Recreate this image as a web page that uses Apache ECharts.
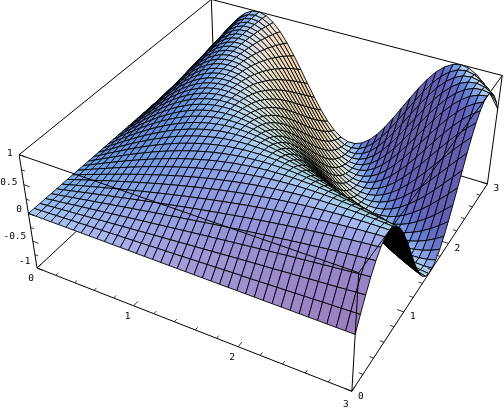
<!DOCTYPE html>
<html><head><meta charset="utf-8">
<style>html,body{margin:0;padding:0;background:#fff}#c{width:504px;height:408px}</style>
<script src="https://cdn.jsdelivr.net/npm/echarts@6/dist/echarts.min.js"></script>
</head><body><div id="c"></div>
<script>
// surface heights, thousandths of a z unit; one row per x grid line
const row00=[0,0,0,0,0,0,0,0,0,0,0,0,0,0,0,0,0,0,0,0,0,0,0,0,0,0,0,0,0,0,0,0,0,0,0,0,0,0,0,0];
const row01=[0,6,12,18,24,30,36,41,47,53,59,65,71,77,83,89,95,100,106,112,118,124,130,136,142,148,153,159,165,171,177,182,188,194,200,206,211,217,223,229];
const row02=[0,12,24,36,47,59,71,83,95,106,118,130,142,153,165,177,188,200,211,223,235,246,257,269,280,292,303,314,325,336,348,359,370,381,392,402,413,424,435,445];
const row03=[0,18,36,53,71,89,106,124,142,159,177,194,211,229,246,263,280,297,314,331,348,364,381,397,413,429,445,461,477,492,508,523,538,553,568,582,596,611,625,638];
const row04=[0,24,47,71,95,118,142,165,188,211,235,257,280,303,325,348,370,392,413,435,456,477,497,518,538,558,577,596,615,634,652,670,687,704,721,737,753,768,783,797];
const row05=[0,30,59,89,118,148,177,206,235,263,292,320,348,375,402,429,456,482,508,533,558,582,606,629,652,674,696,717,737,757,775,794,811,828,845,860,875,889,902,914];
const row06=[0,36,71,106,142,177,211,246,280,314,348,381,413,445,477,508,538,568,596,625,652,678,704,729,753,775,797,818,838,857,875,892,907,921,935,947,958,967,976,983];
const row07=[0,41,83,124,165,206,246,286,325,364,402,440,477,513,548,582,615,647,678,708,737,764,790,815,838,860,881,899,917,932,947,959,970,979,987,993,997,999,1000,999];
const row08=[0,47,95,142,188,235,280,325,370,413,456,497,538,577,615,652,687,721,753,783,811,838,863,886,907,926,943,958,970,981,989,995,998,1000,999,996,991,984,974,962];
const row09=[0,53,106,159,211,263,314,364,413,461,508,553,596,638,678,717,753,787,818,848,875,899,921,941,958,971,983,991,997,1000,1000,997,991,983,971,958,941,921,899,875];
const row10=[0,59,118,177,235,292,348,402,456,508,558,606,652,696,737,775,811,845,875,902,926,947,964,978,989,996,999,1000,996,989,979,965,948,928,904,878,848,815,779,741];
const row11=[0,65,130,194,257,320,381,440,497,553,606,657,704,749,790,828,863,894,921,945,964,979,990,997,1000,998,993,983,969,950,928,902,872,838,801,760,716,669,620,567];
const row12=[0,71,142,211,280,348,413,477,538,596,652,704,753,797,838,875,907,935,958,976,989,997,1000,998,991,979,962,941,914,883,848,808,764,716,665,610,553,492,429,364];
const row13=[0,77,153,229,303,375,445,513,577,638,696,749,797,841,881,914,943,966,983,994,999,999,993,980,962,939,909,875,835,791,741,687,629,567,502,434,364,292,217,141];
const row14=[0,83,165,246,325,402,477,548,615,678,737,790,838,881,917,947,970,987,997,1000,996,986,969,945,914,878,835,786,733,674,610,543,471,397,319,240,159,76,-6,-89];
const row15=[0,89,177,263,348,429,508,582,652,717,775,828,875,914,947,971,989,998,1000,993,979,958,928,891,848,797,741,678,610,538,461,380,297,211,123,35,-54,-142,-229,-315];
const row16=[0,95,188,280,370,456,538,615,687,753,811,863,907,943,970,989,998,999,991,974,948,914,872,822,764,699,629,553,471,386,297,205,112,17,-77,-171,-264,-354,-440,-523];
const row17=[0,100,200,297,392,482,568,647,721,787,845,894,935,966,987,998,999,990,971,942,904,857,801,737,665,587,502,413,319,223,123,23,-77,-177,-275,-370,-462,-548,-630,-704];
const row18=[0,106,211,314,413,508,596,678,753,818,875,921,958,983,997,1000,991,971,941,899,848,786,716,638,553,461,364,263,159,53,-54,-160,-264,-365,-462,-553,-639,-717,-787,-848];
const row19=[0,112,223,331,435,533,625,708,783,848,902,945,976,994,1000,993,974,942,899,845,779,704,620,528,429,325,217,106,-6,-118,-229,-337,-440,-538,-630,-713,-787,-851,-905,-947];
const row20=[0,118,235,348,456,558,652,737,811,875,926,964,989,999,996,979,948,904,848,779,699,610,512,407,297,182,65,-54,-171,-286,-397,-503,-601,-692,-772,-842,-900,-945,-977,-995];
const row21=[0,124,246,364,477,582,678,764,838,899,947,979,997,999,986,958,914,857,786,704,610,507,397,280,159,35,-89,-212,-331,-446,-553,-652,-741,-818,-884,-935,-972,-993,-1000,-991];
const row22=[0,130,257,381,497,606,704,790,863,921,964,990,1000,993,969,928,872,801,716,620,512,397,274,147,17,-113,-241,-365,-482,-592,-692,-780,-854,-914,-959,-988,-1000,-995,-973,-934];
const row23=[0,136,269,397,518,629,729,815,886,941,978,997,998,980,945,891,822,737,638,528,407,280,147,11,-124,-258,-387,-508,-620,-721,-808,-881,-937,-976,-996,-999,-983,-948,-896,-828];
const row24=[0,142,280,413,538,652,753,838,907,958,989,1000,991,962,914,848,764,665,553,429,297,159,17,-124,-264,-397,-523,-639,-741,-829,-900,-952,-986,-1000,-993,-967,-921,-857,-775,-678];
const row25=[0,148,292,429,558,674,775,860,926,971,996,998,979,939,878,797,699,587,461,325,182,35,-113,-258,-397,-528,-648,-753,-842,-912,-963,-992,-1000,-986,-950,-894,-818,-724,-615,-492];
const row26=[0,153,303,445,577,696,797,881,943,983,999,993,962,909,835,741,629,502,364,217,65,-89,-241,-387,-523,-648,-757,-848,-919,-969,-995,-998,-978,-934,-869,-783,-678,-557,-423,-279];
const row27=[0,159,314,461,596,717,818,899,958,991,1000,983,941,875,786,678,553,413,263,106,-54,-212,-365,-508,-639,-753,-848,-922,-972,-997,-997,-971,-921,-847,-752,-638,-507,-364,-211,-52];
const row28=[0,165,325,477,615,737,838,917,970,997,996,969,914,835,733,610,471,319,159,-6,-171,-331,-482,-620,-741,-842,-919,-972,-997,-996,-967,-912,-831,-728,-605,-466,-313,-152,13,177];
const row29=[0,171,336,492,634,757,857,932,981,1000,989,950,883,791,674,538,386,223,53,-118,-286,-446,-592,-721,-829,-912,-969,-997,-996,-965,-907,-821,-712,-581,-434,-274,-105,66,235,398];
const row30=[0,177,348,508,652,775,875,947,989,1000,979,928,848,741,610,461,297,123,-54,-229,-397,-553,-692,-808,-900,-963,-995,-997,-967,-907,-818,-704,-566,-412,-245,-70,107,281,446,597];
const row31=[0,182,359,523,670,794,892,959,995,997,965,902,808,687,543,380,205,23,-160,-337,-503,-652,-780,-881,-952,-992,-998,-971,-912,-821,-704,-562,-402,-228,-46,137,315,483,634,765];
const row32=[0,188,370,538,687,811,907,970,998,991,948,872,764,629,471,297,112,-77,-264,-440,-601,-741,-854,-937,-986,-1000,-978,-921,-831,-712,-566,-402,-222,-35,154,337,509,661,791,892];
const row33=[0,194,381,553,704,828,921,979,1000,983,928,838,716,567,397,211,17,-177,-365,-538,-692,-818,-914,-976,-1000,-986,-934,-847,-728,-581,-412,-228,-35,160,348,524,679,809,907,972];
const row34=[0,200,392,568,721,845,935,987,999,971,904,801,665,502,319,123,-77,-275,-462,-630,-772,-884,-959,-996,-993,-950,-869,-752,-605,-434,-245,-46,154,348,529,688,819,917,978,1000];
const row35=[0,206,402,582,737,860,947,993,996,958,878,760,610,434,240,35,-171,-370,-553,-713,-842,-935,-988,-999,-967,-894,-783,-638,-466,-274,-70,137,337,524,688,822,922,982,1000,975];
const row36=[0,211,413,596,753,875,958,997,991,941,848,716,553,364,159,-54,-264,-462,-639,-787,-900,-972,-1000,-983,-921,-818,-678,-507,-313,-105,107,315,509,679,819,922,983,1000,971,899];
const row37=[0,217,424,611,768,889,967,999,984,921,815,669,492,292,76,-142,-354,-548,-717,-851,-945,-993,-995,-948,-857,-724,-557,-364,-152,66,281,483,661,809,917,982,1000,970,894,775];
const row38=[0,223,435,625,783,902,976,1000,974,899,779,620,429,217,-6,-229,-440,-630,-787,-905,-977,-1000,-973,-896,-775,-615,-423,-211,13,235,446,634,791,907,978,1000,971,894,771,610];
const row39=[0,229,445,638,797,914,983,999,962,875,741,567,364,141,-89,-315,-523,-704,-848,-947,-995,-991,-934,-828,-678,-492,-279,-52,177,398,597,765,892,972,1000,975,899,775,610,412];
const heightRows=[row00,row01,row02,row03,row04,row05,row06,row07,row08,row09,row10,row11,row12,row13,row14,row15,row16,row17,row18,row19,row20,row21,row22,row23,row24,row25,row26,row27,row28,row29,row30,row31,row32,row33,row34,row35,row36,row37,row38,row39];

const xTickLabels=['0','1','2','3'];
const yTickLabels=['0','1','2','3'];
const zTickLabels=['-1','-0.5','0','0.5','1'];
const minorTicks=[0,0.2,0.4,0.6,0.8,1,1.2,1.4,1.6,1.8,2,2.2,2.4,2.6,2.8,3];
const zMinorTicks=[-1,-0.75,-0.5,-0.25,0,0.25,0.5,0.75,1];

const CELLS=heightRows.length-1, XMAX=3, ZMAX=1;
const viewPoint=[1.3,-2.4,2], SCALE=1161, CX=272.7, CY=170.5, ZRATIO=0.4;
const len=v=>Math.hypot(v[0],v[1],v[2]);
const unit=v=>{const l=len(v);return [v[0]/l,v[1]/l,v[2]/l]};
const dot=(a,b)=>a[0]*b[0]+a[1]*b[1]+a[2]*b[2];
const cross=(a,b)=>[a[1]*b[2]-a[2]*b[1],a[2]*b[0]-a[0]*b[2],a[0]*b[1]-a[1]*b[0]];
const D=unit(viewPoint), R=unit(cross([-D[0],-D[1],-D[2]],[0,0,1])), U=cross(R,[-D[0],-D[1],-D[2]]);
const EYE=len(viewPoint);
const box=(x,y,z)=>[x/XMAX-0.5,y/XMAX-0.5,z/ZMAX*ZRATIO/2];
function project(x,y,z){const p=box(x,y,z),w=EYE-dot(p,D);return [CX+SCALE*dot(p,R)/w,CY-SCALE*dot(p,U)/w]}
const gx=i=>i/CELLS*XMAX;
const P=(i,j)=>[gx(i),gx(j),heightRows[i][j]/1000];

// three coloured lights fixed to the viewer, over a base tint; faces turned away from the viewer are black
const L1=unit([1,0,1]),L2=unit([1,1,1]),L3=unit([0,1,1]);
const AMB=[100,95,115],GAIN=[158,130,128];
function shade(i,j){
  const a=box(...P(i,j)),b=box(...P(i+1,j+1)),c=box(...P(i+1,j)),d=box(...P(i,j+1));
  const n=unit(cross([b[0]-a[0],b[1]-a[1],b[2]-a[2]],[d[0]-c[0],d[1]-c[1],d[2]-c[2]]));
  const v=[dot(n,R),dot(n,U),dot(n,D)];
  if(v[2]<=0) return 'rgb(0,0,0)';
  const m=[L1,L2,L3].map((l,k)=>Math.min(255,Math.round(AMB[k]+GAIN[k]*Math.max(0,dot(v,l)))));
  return 'rgb('+m.join(',')+')';
}
const cells=[];
for(let i=0;i<CELLS;i++)for(let j=0;j<CELLS;j++){
  const q=box(gx(i)+gx(1)/2,gx(j)+gx(1)/2,(heightRows[i][j]+heightRows[i+1][j+1])/2000);
  cells.push([i,j,dot(q,D)]);
}
cells.sort((a,b)=>a[2]-b[2]);

const c3=[ // box corners
  [0,0,-1],[3,0,-1],[3,3,-1],[0,3,-1],[0,0,1],[3,0,1],[3,3,1],[0,3,1]];
const backEdges=[[3,0],[3,2],[3,7],[7,4],[7,6],[2,6]];
const frontEdges=[[0,1],[1,2],[0,4],[4,5],[5,6],[1,5]];
const lineEl=(api,a,b,w)=>({type:'line',shape:{x1:api.coord(a)[0],y1:api.coord(a)[1],x2:api.coord(b)[0],y2:api.coord(b)[1]},style:{stroke:'#000',lineWidth:w,fill:null},silent:true});
const edgeSeries=(edges,z)=>({type:'custom',coordinateSystem:'cartesian2d',z,clip:false,silent:true,animation:false,progressive:0,
  data:edges.map((e,k)=>[k,0]),
  renderItem(p,api){const e=edges[api.value(0)];return lineEl(api,project(...c3[e[0]]),project(...c3[e[1]]),1)}});

const ticks=[];
minorTicks.forEach(t=>{const maj=Number.isInteger(t),l=maj?0.06:0.035;
  ticks.push([[t,0,-1],[t,l,-1]]);ticks.push([[3,t,-1],[3-l,t,-1]]);});
zMinorTicks.forEach(t=>{const maj=Number.isInteger(t*2),l=maj?0.06:0.035;ticks.push([[0,0,t],[l,0,t]]);});

const labels=[];
xTickLabels.forEach(s=>{const a=project(+s,0,-1);labels.push([s,a[0]-6,a[1]+11+(+s===3?2:0),'center'])});
yTickLabels.forEach(s=>{const a=project(3,+s,-1);labels.push([s,a[0]+9,a[1]+5,'center'])});
zTickLabels.forEach(s=>{const z=+s,a=project(0,0,z);labels.push([s,a[0]-6.5,a[1]-3.5+2.5*z,'right'])});

const option={animation:false,backgroundColor:'#fff',
 grid:{left:0,right:0,top:0,bottom:0,containLabel:false},
 xAxis:{type:'value',min:0,max:504,show:false},
 yAxis:{type:'value',min:0,max:408,inverse:true,show:false},
 series:[
  edgeSeries(backEdges,1),
  {type:'custom',coordinateSystem:'cartesian2d',z:2,clip:false,silent:true,animation:false,progressive:0,
   data:cells.map(c=>[c[0],c[1]]),
   renderItem(p,api){const i=api.value(0),j=api.value(1);
     const pts=[[i,j],[i+1,j],[i+1,j+1],[i,j+1]].map(q=>api.coord(project(...P(q[0],q[1]))));
     return {type:'polygon',shape:{points:pts},style:{fill:shade(i,j),stroke:'#000',lineWidth:0.9,lineJoin:'round'},silent:true};}},
  edgeSeries(frontEdges,3),
  {type:'custom',coordinateSystem:'cartesian2d',z:3,clip:false,silent:true,animation:false,progressive:0,
   data:ticks.map((t,k)=>[k,0]),
   renderItem(p,api){const t=ticks[api.value(0)];return lineEl(api,project(...t[0]),project(...t[1]),0.8)}},
  {type:'custom',coordinateSystem:'cartesian2d',z:4,clip:false,silent:true,animation:false,progressive:0,
   data:labels.map((t,k)=>[k,0]),
   renderItem(p,api){const t=labels[api.value(0)],a=api.coord([t[1],t[2]]);
     return {type:'text',x:a[0],y:a[1],style:{text:t[0],fill:'#000',font:'9.5px "DejaVu Sans Mono"',textAlign:t[3],textVerticalAlign:'middle'},silent:true};}}
 ]};
echarts.init(document.getElementById('c'),null,{renderer:'canvas'}).setOption(option);
</script></body></html>
